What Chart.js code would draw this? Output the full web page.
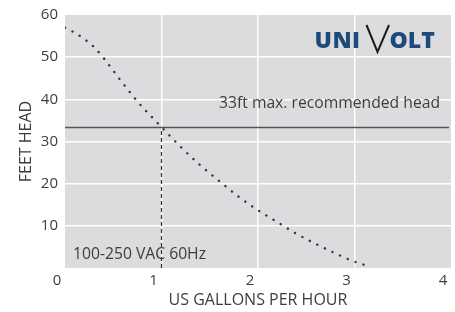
<!DOCTYPE html>
<html>
<head>
<meta charset="utf-8">
<script src="https://cdn.jsdelivr.net/npm/chart.js@4"></script>
<style>
  html, body { margin: 0; padding: 0; background: #fff; }
  #wrap { width: 455px; height: 312px; }
</style>
</head>
<body>
<div id="wrap"><canvas id="pump-chart" width="455" height="312"></canvas></div>
<script>
// pump curve (US gallons per hour vs feet of head)
const flowGph = [0, 0.1, 0.2, 0.3, 0.4, 0.5, 0.6, 0.7, 0.8, 0.9, 1.0, 1.2, 1.4, 1.6, 1.8, 2.0, 2.2, 2.4, 2.6, 2.8, 3.0, 3.17]
const headFt = [57.0, 55.8, 54.3, 52.4, 49.8, 46.8, 43.8, 40.9, 38.2, 35.8, 33.4, 28.7, 24.4, 20.6, 16.9, 13.7, 10.9, 8.1, 5.7, 3.5, 1.5, 0.3]

// max recommended head and the flow where the curve meets it
const maxHead = 33.3
const maxHeadFlow = 1.0

const xTicks = [0, 1, 2, 3, 4]
const yTicks = [0, 10, 20, 30, 40, 50, 60]

const textColor = '#3d3d3f'
const fontFamily = "'Open Sans', 'Noto Sans', sans-serif"

function toPoints(xs, ys) {
    return xs.map((x, i) => ({ x: x, y: ys[i] }))
}

// grey plot background
const plotBackground = {
    id: 'plotBackground',
    beforeDraw(chart) {
        const { ctx, chartArea } = chart
        ctx.save()
        ctx.fillStyle = '#dcdcde'
        ctx.fillRect(chartArea.left, chartArea.top, chartArea.right - chartArea.left, chartArea.bottom - chartArea.top)
        ctx.restore()
    }
}

// notes and the logo on top of the plot
const overlayTexts = {
    id: 'overlayTexts',
    afterDraw(chart) {
        const { ctx, chartArea } = chart
        const yScale = chart.scales.y
        ctx.save()
        ctx.fillStyle = textColor
        ctx.font = '15.7px ' + fontFamily
        ctx.textBaseline = 'middle'
        ctx.textAlign = 'right'
        ctx.fillText('33ft max. recommended head', chartArea.right - 11, yScale.getPixelForValue(maxHead) - 24)
        ctx.textAlign = 'left'
        ctx.fillText('100-250 VAC 60Hz', chartArea.left + 8, chartArea.bottom - 13)

        // UNIVOLT logo
        ctx.textBaseline = 'alphabetic'
        ctx.font = '800 23px ' + fontFamily
        ctx.fillStyle = '#1c4a7b'
        ctx.letterSpacing = '0.5px'
        ctx.fillText('UNI', 314.5, 47.5)
        ctx.letterSpacing = '0px'
        ctx.fillText('OLT', 389.5, 47.5)
        ctx.strokeStyle = '#1a1a1a'
        ctx.lineWidth = 2
        ctx.lineJoin = 'miter'
        ctx.beginPath()
        ctx.moveTo(366.5, 25)
        ctx.lineTo(377.5, 52)
        ctx.lineTo(389, 25)
        ctx.stroke()
        ctx.restore()
    }
}

function gridColor(ctx, lastValue) {
    const v = ctx.tick ? ctx.tick.value : null
    return (v === 0 || v === lastValue) ? 'rgba(0,0,0,0)' : '#ffffff'
}

const chart = new Chart(document.getElementById('pump-chart').getContext('2d'), {
    type: 'line',
    data: {
        datasets: [{
            label: 'Pump curve',
            data: toPoints(flowGph, headFt),
            borderColor: '#34373e',
            borderWidth: 2.4,
            borderDash: [0.1, 8.3],
            borderCapStyle: 'round',
            cubicInterpolationMode: 'monotone',
            pointRadius: 0,
            fill: false
        }, {
            label: 'Max head',
            data: [{ x: xTicks[0], y: maxHead }, { x: 3.98, y: maxHead }],
            borderColor: '#55565c',
            borderWidth: 1.5,
            pointRadius: 0
        }, {
            label: 'Flow at max head',
            data: [{ x: maxHeadFlow, y: 0 }, { x: maxHeadFlow, y: maxHead }],
            borderColor: '#2e2f33',
            borderWidth: 1.2,
            borderDash: [4, 3],
            pointRadius: 0
        }]
    },
    options: {
        responsive: false,
        animation: false,
        layout: { padding: { top: 15, right: 4, left: 0, bottom: 0 } },
        plugins: {
            legend: { display: false },
            tooltip: { enabled: false }
        },
        scales: {
            x: {
                type: 'linear',
                min: xTicks[0],
                max: xTicks[xTicks.length - 1],
                afterBuildTicks: (scale) => { scale.ticks = xTicks.map(v => ({ value: v })) },
                afterFit: (scale) => {
                    scale.height = 44
                    scale.paddingLeft = 0
                    scale.paddingRight = 0
                },
                ticks: {
                    labelOffset: -8,
                    padding: 4,
                    color: textColor,
                    font: { family: fontFamily, size: 15 },
                    maxRotation: 0
                },
                grid: {
                    color: (ctx) => gridColor(ctx, xTicks[xTicks.length - 1]),
                    lineWidth: 1.5,
                    drawTicks: false
                },
                border: { display: false },
                title: {
                    display: true,
                    text: 'US GALLONS PER HOUR',
                    color: textColor,
                    font: { family: fontFamily, size: 16 },
                    padding: { top: 0, bottom: 2 }
                }
            },
            y: {
                min: yTicks[0],
                max: yTicks[yTicks.length - 1],
                afterBuildTicks: (scale) => { scale.ticks = yTicks.map(v => ({ value: v })) },
                afterFit: (scale) => {
                    scale.width = 65
                    scale.paddingTop = 0
                    scale.paddingBottom = 0
                },
                ticks: {
                    padding: 7,
                    color: textColor,
                    font: { family: fontFamily, size: 15 },
                    callback: (v) => v === 0 ? '' : v
                },
                grid: {
                    color: (ctx) => gridColor(ctx, yTicks[yTicks.length - 1]),
                    lineWidth: 1.5,
                    drawTicks: false
                },
                border: { display: false },
                title: {
                    display: true,
                    text: 'FEET HEAD',
                    color: textColor,
                    font: { family: fontFamily, size: 16 },
                    padding: { top: 17, bottom: 0 }
                }
            }
        }
    },
    plugins: [plotBackground, overlayTexts]
})
</script>
</body>
</html>
